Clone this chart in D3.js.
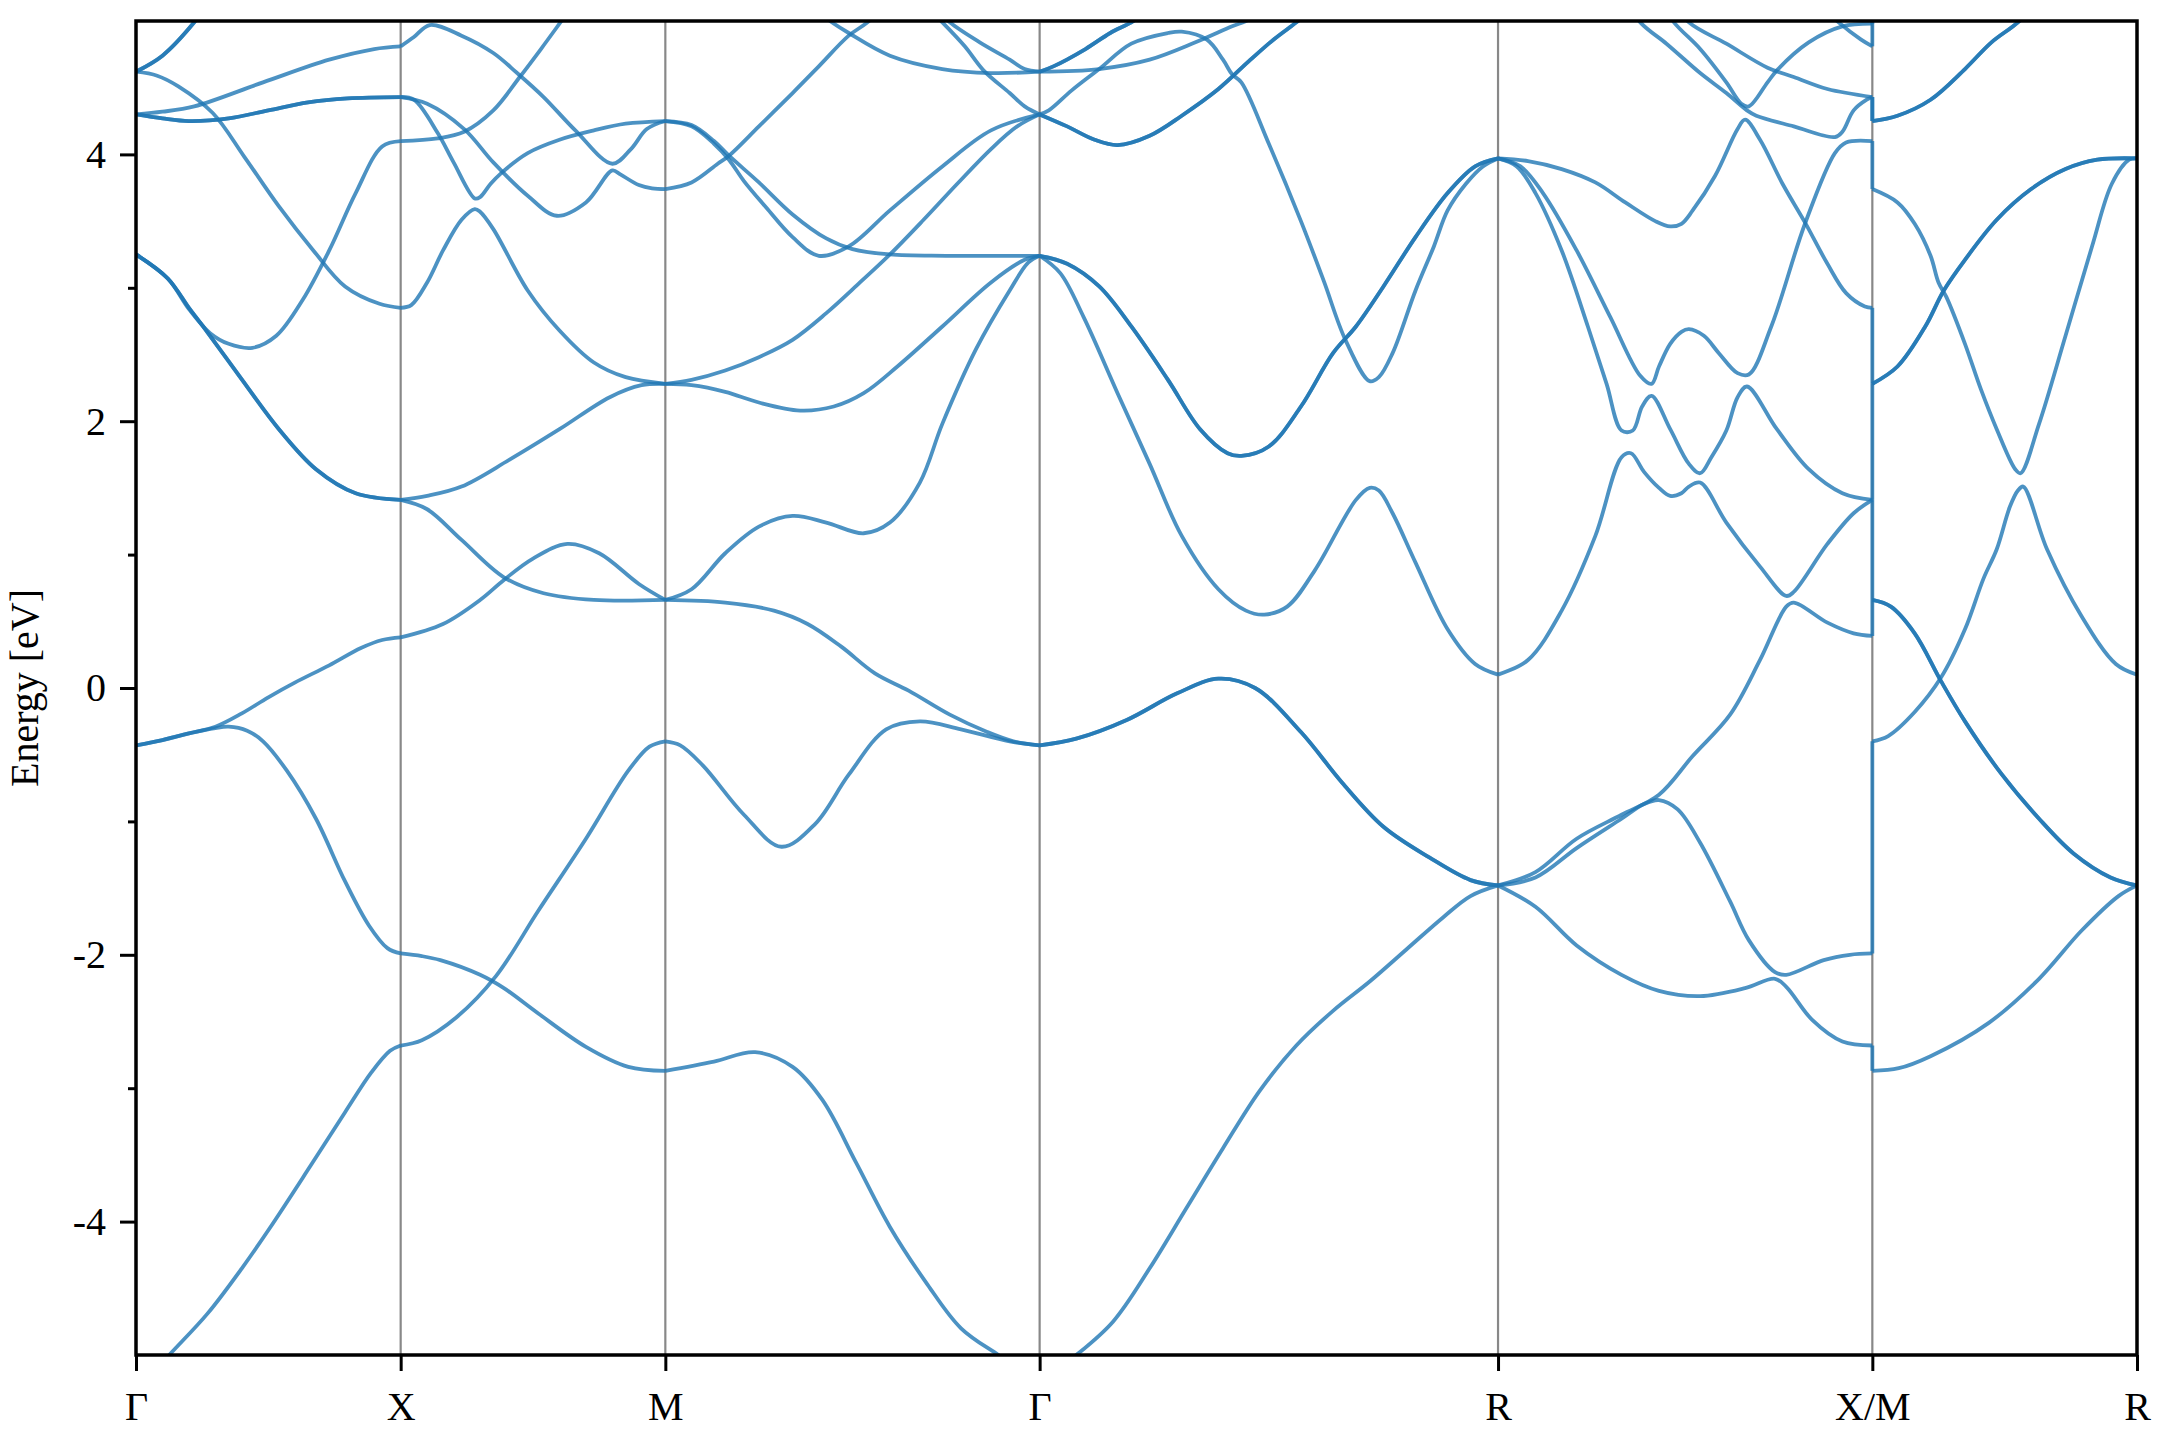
<!DOCTYPE html>
<html>
<head>
<meta charset="utf-8">
<script src="https://cdn.jsdelivr.net/npm/d3@7"></script>
<style>
  body { margin: 0; background: #fff; }
  svg text { font-family: "Liberation Serif", "Times New Roman", serif; }
</style>
</head>
<body>
<svg id="chart" width="2160" height="1440"></svg>
<script>

// k-path
var kLabels = ["Γ", "X", "M", "Γ", "R", "X/M", "R"];
var kDist = [0, 0.5, 1.0, 1.7071, 2.5731, 3.2802, 3.7802];

var yMajor = [-4, -2, 0, 2, 4];
var yMinor = [-3, -1, 1, 3];

// every curve is a list of [fraction along the segment, energy in eV]
// Γ -> X
var bandsGX = [
  [[0,-5.2],[0.07,-5.12],[0.135,-4.98],[0.27,-4.69],[0.40,-4.35],[0.505,-4.05],[0.66,-3.58],[0.79,-3.18],[0.89,-2.88],[0.96,-2.72],[1,-2.68]],
  [[0,-0.43],[0.1,-0.39],[0.2,-0.34],[0.3,-0.30],[0.35,-0.29],[0.42,-0.32],[0.48,-0.40],[0.57,-0.62],[0.68,-0.98],[0.79,-1.45],[0.88,-1.78],[0.95,-1.95],[1,-1.99]],
  [[0,-0.43],[0.1,-0.39],[0.2,-0.34],[0.3,-0.29],[0.4,-0.19],[0.5,-0.07],[0.6,0.04],[0.73,0.17],[0.85,0.30],[0.93,0.36],[1,0.38]],
  [[0,3.25],[0.12,3.07],[0.2,2.85],[0.25,2.72],[0.39,2.34],[0.54,1.94],[0.68,1.64],[0.83,1.46],[1,1.41]],
  [[0,3.25],[0.12,3.07],[0.2,2.84],[0.28,2.66],[0.35,2.58],[0.44,2.55],[0.53,2.64],[0.63,2.91],[0.73,3.28],[0.83,3.71],[0.93,4.06],[1,4.10]],
  [[0,4.30],[0.1,4.27],[0.2,4.25],[0.35,4.27],[0.5,4.33],[0.65,4.39],[0.8,4.42],[1,4.43]],
  [[0,4.30],[0.1,4.32],[0.22,4.36],[0.48,4.54],[0.73,4.71],[0.9,4.79],[1,4.81]],
  [[0,4.62],[0.08,4.59],[0.16,4.51],[0.29,4.31],[0.41,3.98],[0.54,3.61],[0.67,3.28],[0.79,3.01],[0.92,2.88],[1,2.85]],
  [[0,4.62],[0.1,4.74],[0.22,4.99],[0.35,5.35]]
];
var degGX = [1, 1, 1, 2, 1, 2, 1, 1, 2];

// X -> M
var bandsXM = [
  [[0,0.38],[0.16,0.48],[0.3,0.66],[0.39,0.81],[0.5,0.97],[0.63,1.08],[0.75,1.01],[0.9,0.78],[1,0.66]],
  [[0,1.41],[0.1,1.34],[0.23,1.11],[0.39,0.83],[0.54,0.71],[0.73,0.66],[1,0.66]],
  [[0,1.41],[0.1,1.44],[0.23,1.51],[0.41,1.71],[0.6,1.94],[0.79,2.18],[0.91,2.27],[1,2.28]],
  [[0,2.85],[0.04,2.87],[0.1,3.04],[0.16,3.28],[0.23,3.51],[0.28,3.59],[0.3,3.57],[0.35,3.44],[0.48,2.98],[0.6,2.68],[0.73,2.44],[0.85,2.33],[1,2.28]],
  [[0,4.43],[0.05,4.41],[0.14,4.16],[0.2,3.94],[0.28,3.67],[0.3,3.68],[0.34,3.78],[0.38,3.86],[0.48,4.01],[0.6,4.11],[0.73,4.18],[0.85,4.23],[1,4.25]],
  [[0,4.43],[0.1,4.38],[0.24,4.19],[0.35,3.94],[0.48,3.69],[0.59,3.54],[0.7,3.64],[0.8,3.88],[0.83,3.85],[0.9,3.77],[0.95,3.745],[1,3.74]],
  [[0,4.81],[0.05,4.88],[0.11,4.97],[0.23,4.89],[0.35,4.76],[0.44,4.61],[0.54,4.43],[0.66,4.18],[0.8,3.93],[0.87,4.04],[0.93,4.19],[1,4.25]],
  [[0,4.10],[0.14,4.12],[0.24,4.17],[0.35,4.33],[0.45,4.58],[0.53,4.79],[0.6,4.98],[0.68,5.2]],
  [[0,-2.68],[0.08,-2.64],[0.21,-2.47],[0.36,-2.16],[0.52,-1.67],[0.7,-1.13],[0.86,-0.62],[0.94,-0.44],[1,-0.40]],
  [[0,-1.99],[0.08,-2.01],[0.15,-2.04],[0.3,-2.15],[0.39,-2.25],[0.52,-2.44],[0.7,-2.69],[0.86,-2.84],[1,-2.87]]
];
var degXM = [1, 1, 1, 1, 1, 1, 1, 1, 1, 1];

// M -> Γ
var bandsMG = [
  [[0,4.25],[0.07,4.21],[0.13,4.08],[0.17,3.96],[0.21,3.8],[0.27,3.6],[0.34,3.38],[0.41,3.24],[0.49,3.31],[0.6,3.58],[0.74,3.91],[0.87,4.18],[1,4.30]],
  [[0,4.25],[0.07,4.22],[0.13,4.1],[0.17,3.99],[0.25,3.79],[0.34,3.55],[0.43,3.37],[0.5,3.29],[0.6,3.25],[0.75,3.24],[1,3.24]],
  [[0,3.74],[0.07,3.79],[0.14,3.93],[0.17,3.99],[0.25,4.21],[0.34,4.46],[0.41,4.66],[0.49,4.89],[0.54,4.99],[0.6,5.15]],
  [[0.35,5.2],[0.44,5.0],[0.49,4.91],[0.6,4.74],[0.74,4.64],[0.87,4.61],[1,4.62]],
  [[0.7,5.1],[0.74,4.99],[0.8,4.81],[0.85,4.63],[0.92,4.46],[0.96,4.36],[1,4.30]],
  [[0.72,5.1],[0.76,4.99],[0.84,4.84],[0.92,4.71],[0.96,4.64],[1,4.62]],
  [[0,2.28],[0.07,2.27],[0.16,2.22],[0.25,2.14],[0.36,2.08],[0.45,2.11],[0.53,2.21],[0.62,2.41],[0.74,2.71],[0.87,3.04],[0.96,3.21],[1,3.24]],
  [[0,2.28],[0.07,2.31],[0.16,2.38],[0.25,2.48],[0.34,2.61],[0.43,2.81],[0.52,3.04],[0.6,3.25],[0.69,3.51],[0.78,3.78],[0.87,4.04],[0.94,4.21],[1,4.30]],
  [[0,0.66],[0.07,0.74],[0.16,1.01],[0.25,1.21],[0.34,1.29],[0.43,1.24],[0.53,1.16],[0.6,1.24],[0.68,1.54],[0.74,1.98],[0.83,2.54],[0.92,2.98],[0.97,3.19],[1,3.24]],
  [[0,0.66],[0.16,0.64],[0.29,0.58],[0.38,0.48],[0.47,0.31],[0.56,0.11],[0.65,-0.02],[0.76,-0.2],[0.86,-0.33],[0.93,-0.40],[1,-0.43]],
  [[0,-0.40],[0.04,-0.43],[0.1,-0.58],[0.21,-0.95],[0.31,-1.19],[0.4,-1.02],[0.49,-0.65],[0.59,-0.31],[0.68,-0.25],[0.79,-0.31],[0.92,-0.40],[1,-0.43]],
  [[0,-2.87],[0.13,-2.80],[0.24,-2.73],[0.34,-2.84],[0.42,-3.09],[0.51,-3.56],[0.6,-4.04],[0.7,-4.47],[0.79,-4.8],[0.89,-5.0],[1,-5.2]]
];
var degMG = [1, 1, 1, 1, 1, 1, 1, 1, 1, 1, 1, 1];

// Γ -> R
var bandsGR = [
  [[0,4.62],[0.03,4.66],[0.1,4.79],[0.154,4.91],[0.2,4.99],[0.25,5.1]],
  [[0,4.62],[0.13,4.64],[0.24,4.71],[0.34,4.84],[0.42,4.96],[0.45,5.0],[0.5,5.1]],
  [[0,4.30],[0.02,4.33],[0.07,4.48],[0.13,4.64],[0.2,4.83],[0.28,4.91],[0.31,4.92],[0.365,4.86],[0.40,4.71],[0.42,4.6],[0.44,4.54],[0.5,4.08],[0.57,3.5],[0.62,3.05],[0.667,2.61],[0.72,2.30],[0.74,2.33],[0.77,2.51],[0.82,2.98],[0.86,3.31],[0.89,3.58],[0.93,3.78],[0.967,3.91],[1,3.97]],
  [[0,4.30],[0.06,4.21],[0.12,4.11],[0.17,4.07],[0.24,4.14],[0.31,4.29],[0.39,4.49],[0.46,4.71],[0.51,4.86],[0.56,4.99],[0.6,5.1]],
  [[0,3.24],[0.06,3.18],[0.13,3.01],[0.2,2.71],[0.28,2.31],[0.35,1.94],[0.41,1.76],[0.44,1.74],[0.5,1.81],[0.57,2.11],[0.64,2.51],[0.69,2.71],[0.75,3.01],[0.82,3.38],[0.89,3.71],[0.95,3.91],[1,3.97]],
  [[0,3.24],[0.045,3.11],[0.096,2.78],[0.17,2.21],[0.24,1.68],[0.31,1.14],[0.39,0.74],[0.45,0.58],[0.49,0.55],[0.54,0.61],[0.6,0.88],[0.69,1.41],[0.72,1.50],[0.74,1.48],[0.77,1.31],[0.82,0.94],[0.89,0.44],[0.95,0.18],[1,0.10]],
  [[0,-0.43],[0.08,-0.38],[0.19,-0.24],[0.3,-0.04],[0.39,0.07],[0.47,0.0],[0.57,-0.33],[0.66,-0.71],[0.75,-1.04],[0.85,-1.27],[0.94,-1.44],[1,-1.48]],
  [[0,-5.2],[0.08,-5.0],[0.16,-4.75],[0.24,-4.35],[0.32,-3.9],[0.40,-3.45],[0.48,-3.02],[0.56,-2.68],[0.64,-2.42],[0.72,-2.2],[0.80,-1.96],[0.88,-1.72],[0.94,-1.56],[1,-1.48]]
];
var degGR = [2, 1, 1, 2, 2, 1, 2, 1];

// R -> X
var bandsRX = [
  [[0,3.97],[0.08,3.95],[0.17,3.89],[0.26,3.79],[0.34,3.64],[0.42,3.50],[0.46,3.46],[0.49,3.48],[0.52,3.58],[0.58,3.84],[0.64,4.19],[0.66,4.26],[0.70,4.11],[0.76,3.78],[0.82,3.49],[0.88,3.18],[0.93,2.96],[0.98,2.86],[1,2.85]],
  [[0,3.97],[0.06,3.91],[0.12,3.71],[0.21,3.28],[0.3,2.78],[0.38,2.34],[0.41,2.28],[0.43,2.41],[0.46,2.58],[0.49,2.67],[0.51,2.69],[0.55,2.64],[0.59,2.51],[0.64,2.36],[0.67,2.35],[0.73,2.71],[0.82,3.48],[0.9,4.01],[0.93,4.09],[1,4.10]],
  [[0,3.97],[0.05,3.91],[0.1,3.71],[0.17,3.28],[0.24,2.71],[0.29,2.28],[0.33,1.93],[0.36,1.93],[0.385,2.11],[0.41,2.19],[0.46,1.94],[0.51,1.68],[0.54,1.61],[0.57,1.73],[0.61,1.93],[0.64,2.18],[0.665,2.26],[0.745,1.94],[0.83,1.64],[0.92,1.46],[1,1.41]],
  [[0,0.10],[0.08,0.21],[0.17,0.58],[0.26,1.14],[0.33,1.73],[0.355,1.76],[0.39,1.62],[0.43,1.50],[0.46,1.44],[0.49,1.46],[0.51,1.51],[0.54,1.54],[0.61,1.24],[0.70,0.91],[0.77,0.69],[0.79,0.72],[0.88,1.08],[0.95,1.31],[1,1.41]],
  [[0,-1.48],[0.1,-1.38],[0.21,-1.13],[0.33,-0.95],[0.43,-0.8],[0.52,-0.51],[0.62,-0.2],[0.7,0.21],[0.77,0.61],[0.79,0.64],[0.88,0.49],[0.95,0.41],[1,0.39]],
  [[0,-1.48],[0.1,-1.64],[0.21,-1.93],[0.33,-2.15],[0.43,-2.27],[0.54,-2.31],[0.66,-2.25],[0.74,-2.18],[0.77,-2.24],[0.84,-2.49],[0.92,-2.65],[1,-2.68]],
  [[0,-1.48],[0.1,-1.42],[0.21,-1.2],[0.33,-0.98],[0.39,-0.87],[0.43,-0.84],[0.48,-0.91],[0.54,-1.16],[0.62,-1.6],[0.67,-1.89],[0.74,-2.13],[0.77,-2.15],[0.87,-2.04],[0.94,-2.0],[1,-1.99]],
  [[0.3,5.3],[0.38,4.99],[0.45,4.83],[0.54,4.61],[0.61,4.46],[0.665,4.33],[0.69,4.29],[0.79,4.21],[0.9,4.13],[0.92,4.17],[0.95,4.33],[0.985,4.41],[1,4.43]],
  [[0.42,5.2],[0.47,4.99],[0.54,4.79],[0.61,4.54],[0.65,4.38],[0.67,4.36],[0.72,4.54],[0.745,4.63],[0.83,4.84],[0.92,4.96],[1,4.98]],
  [[0.45,5.2],[0.51,4.99],[0.61,4.83],[0.72,4.65],[0.79,4.58],[0.88,4.49],[1,4.43]],
  [[0.85,5.15],[0.91,4.99],[0.97,4.86],[1,4.81]]
];
var degRX = [1, 1, 1, 1, 1, 1, 1, 1, 1, 1, 1];

// M -> R
var bandsMR = [
  [[0,4.25],[0.095,4.29],[0.22,4.41],[0.35,4.64],[0.45,4.84],[0.55,4.99],[0.6,5.1]],
  [[0,3.74],[0.095,3.64],[0.16,3.48],[0.22,3.24],[0.25,3.04],[0.28,2.93],[0.35,2.58],[0.41,2.24],[0.47,1.94],[0.54,1.64],[0.56,1.61],[0.63,1.98],[0.73,2.64],[0.83,3.31],[0.905,3.78],[0.97,3.96],[1,3.97]],
  [[0,2.28],[0.095,2.41],[0.2,2.71],[0.27,2.98],[0.35,3.21],[0.47,3.51],[0.6,3.74],[0.73,3.89],[0.85,3.96],[1,3.97]],
  [[0,0.66],[0.07,0.61],[0.16,0.41],[0.26,0.05],[0.35,-0.25],[0.49,-0.65],[0.63,-0.98],[0.76,-1.24],[0.9,-1.42],[1,-1.48]],
  [[0,-0.40],[0.06,-0.36],[0.16,-0.18],[0.26,0.08],[0.35,0.44],[0.42,0.82],[0.47,1.04],[0.52,1.36],[0.55,1.48],[0.57,1.51],[0.66,1.04],[0.79,0.54],[0.92,0.18],[1,0.10]],
  [[0,-2.87],[0.1,-2.85],[0.22,-2.76],[0.44,-2.51],[0.63,-2.18],[0.79,-1.82],[0.93,-1.56],[1,-1.48]]
];
var degMR = [2, 1, 2, 2, 1, 1];

// band energies on both sides of the X/M break, in band order
var joinX = [-2.68, -1.99, 0.39, 1.41, 1.41, 2.85, 4.10, 4.43, 4.43, 4.81, 4.98];
var joinM = [-2.87, -0.40, 0.66, 0.66, 2.28, 2.28, 3.74, 4.25, 4.25, 5.2, 5.4];

var segFrom = [0, 1, 2, 3, 4, 5];
var segBands = [bandsGX, bandsXM, bandsMG, bandsGR, bandsRX, bandsMR];
var segDeg = [degGX, degXM, degMG, degGR, degRX, degMR];

var margin = {left: 136, right: 23, top: 21, bottom: 85};
var W = 2160, H = 1440;

var svg = d3.select("#chart");

var x = d3.scaleLinear()
    .domain([kDist[0], kDist[kDist.length - 1]])
    .range([margin.left, W - margin.right]);
var y = d3.scaleLinear()
    .domain([-5, 5])
    .range([H - margin.bottom, margin.top]);

svg.append("defs").append("clipPath").attr("id", "plotclip")
  .append("rect")
    .attr("x", x.range()[0])
    .attr("y", y.range()[1])
    .attr("width", x.range()[1] - x.range()[0])
    .attr("height", y.range()[0] - y.range()[1]);

// gray lines at the high symmetry points
svg.append("g").selectAll("line")
  .data(kDist.slice(1, -1))
  .enter().append("line")
    .attr("x1", function(d){ return x(d); })
    .attr("x2", function(d){ return x(d); })
    .attr("y1", y(-5))
    .attr("y2", y(5))
    .attr("stroke", "#888888")
    .attr("stroke-width", 2.2);

var plot = svg.append("g").attr("clip-path", "url(#plotclip)");

var bandColor = "#1f77b4";

for (var s = 0; s < segBands.length; s++) {
  var k0 = kDist[segFrom[s]], k1 = kDist[segFrom[s] + 1];
  var line = d3.line()
      .x(function(p){ return x(k0 + p[0] * (k1 - k0)); })
      .y(function(p){ return y(p[1]); })
      .curve(d3.curveCatmullRom.alpha(0.5));
  var curves = segBands[s];
  for (var c = 0; c < curves.length; c++) {
    for (var n = 0; n < segDeg[s][c]; n++) {
      plot.append("path")
        .attr("d", line(curves[c]))
        .attr("fill", "none")
        .attr("stroke", bandColor)
        .attr("stroke-opacity", 0.8)
        .attr("stroke-width", 3.8)
        .attr("stroke-linejoin", "round");
    }
  }
}

// vertical jumps where the path breaks at X/M
var kBreak = kDist[5];
plot.append("g").selectAll("line")
  .data(d3.range(joinX.length))
  .enter().append("line")
    .attr("x1", x(kBreak))
    .attr("x2", x(kBreak))
    .attr("y1", function(i){ return y(joinX[i]); })
    .attr("y2", function(i){ return y(joinM[i]); })
    .attr("stroke", bandColor)
    .attr("stroke-opacity", 0.8)
    .attr("stroke-width", 3.8);

// axes
var xAxis = d3.axisBottom(x)
    .tickValues(kDist)
    .tickFormat(function(d, i){ return kLabels[i]; })
    .tickSize(16)
    .tickPadding(21);
var gx = svg.append("g")
    .attr("transform", "translate(0," + y(-5) + ")")
    .call(xAxis);

var yAxis = d3.axisLeft(y)
    .tickValues(yMajor)
    .tickFormat(function(d){ return String(d); })
    .tickSize(16)
    .tickPadding(14);
var gy = svg.append("g")
    .attr("transform", "translate(" + x.range()[0] + ",0)")
    .call(yAxis);

var yAxisMinor = d3.axisLeft(y)
    .tickValues(yMinor)
    .tickFormat("")
    .tickSize(8);
var gym = svg.append("g")
    .attr("transform", "translate(" + x.range()[0] + ",0)")
    .call(yAxisMinor);

[gx, gy, gym].forEach(function(g){
  g.select(".domain").remove();
  g.selectAll(".tick line").attr("stroke", "#000").attr("stroke-width", 3);
  g.selectAll(".tick text")
    .attr("fill", "#000")
    .style("font-family", "'Liberation Serif', 'Times New Roman', serif")
    .style("font-size", "40px");
});

// frame
svg.append("rect")
    .attr("x", x.range()[0])
    .attr("y", y.range()[1])
    .attr("width", x.range()[1] - x.range()[0])
    .attr("height", y.range()[0] - y.range()[1])
    .attr("fill", "none")
    .attr("stroke", "#000")
    .attr("stroke-width", 3.5);

svg.append("text")
    .attr("transform", "translate(38," + y(0) + ") rotate(-90)")
    .attr("text-anchor", "middle")
    .style("font-size", "40px")
    .attr("fill", "#000")
    .text("Energy [eV]");

</script>
</body>
</html>
